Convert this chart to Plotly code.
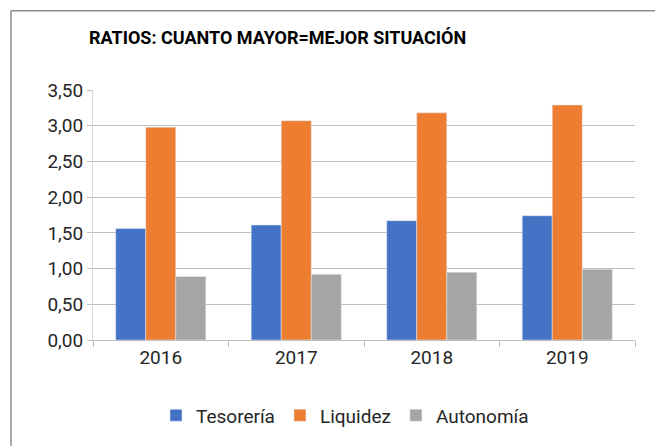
import plotly.graph_objects as go

years = ["2016", "2017", "2018", "2019"]
tesoreria = [1.56, 1.61, 1.67, 1.74]
liquidez = [2.98, 3.07, 3.18, 3.29]
autonomia = [0.89, 0.92, 0.95, 0.99]
yticks = [0, 0.5, 1.0, 1.5, 2.0, 2.5, 3.0, 3.5]
ytick_labels = ["0,00", "0,50", "1,00", "1,50", "2,00", "2,50", "3,00", "3,50"]

FONT = "Roboto, Arial, sans-serif"

fig = go.Figure()
fig.add_trace(go.Bar(name="Tesorería", x=years, y=tesoreria, marker_color="#4472C4"))
fig.add_trace(go.Bar(name="Liquidez", x=years, y=liquidez, marker_color="#ED7D31"))
fig.add_trace(go.Bar(name="Autonomía", x=years, y=autonomia, marker_color="#A5A5A5"))

L, R, T, B = 93, 20, 90, 104
W, H = 655, 446
pw, ph = W - L - R, H - T - B

fig.update_layout(
    width=W, height=H,
    margin=dict(l=L, r=R, t=T, b=B),
    paper_bgcolor="white", plot_bgcolor="white",
    barmode="group", bargap=0.335, bargroupgap=0,
    font=dict(family=FONT, color="#262626"),
    showlegend=True,
    legend=dict(orientation="h", x=(345 - L) / pw, xanchor="center",
                y=(H - B - 418) / ph, yanchor="middle",
                font=dict(size=19, family=FONT, color="#262626"),
                itemwidth=30, tracegroupgap=0),
    xaxis=dict(type="category", tickson="boundaries", ticks="outside", ticklen=6,
               tickcolor="#BFBFBF", showline=True, linecolor="#BFBFBF", linewidth=1,
               tickfont=dict(size=19, family=FONT, color="#262626"), showgrid=False),
    yaxis=dict(range=[0, 3.5], tickvals=yticks, ticktext=ytick_labels,
               ticks="outside", ticklen=5, tickcolor="#BFBFBF",
               showgrid=True, gridcolor="#BFBFBF", gridwidth=1, zeroline=False,
               showline=True, linecolor="#D9D9D9", linewidth=1,
               tickfont=dict(size=19, family=FONT, color="#262626")),
    annotations=[dict(text="<b>RATIOS: CUANTO MAYOR=MEJOR SITUACIÓN</b>",
                      xref="paper", yref="paper", x=(87 - L) / pw, y=(H - B - 37) / ph,
                      xanchor="left", yanchor="middle", showarrow=False,
                      font=dict(size=18, family=FONT, color="#000000"))],
    shapes=[
        dict(type="line", xref="paper", yref="paper",
             x0=(11 - L) / pw, x1=(660 - L) / pw, y0=(H - B - 10) / ph, y1=(H - B - 10) / ph,
             line=dict(color="#8C8C8C", width=1.5)),
        dict(type="line", xref="paper", yref="paper",
             x0=(11 - L) / pw, x1=(11 - L) / pw, y0=(H - B - 10) / ph, y1=(H - B - 460) / ph,
             line=dict(color="#8C8C8C", width=1.5)),
    ],
)

fig.write_html("out.html", config={"displayModeBar": False},
               post_script="document.body.style.margin='0';document.body.style.padding='0';")
